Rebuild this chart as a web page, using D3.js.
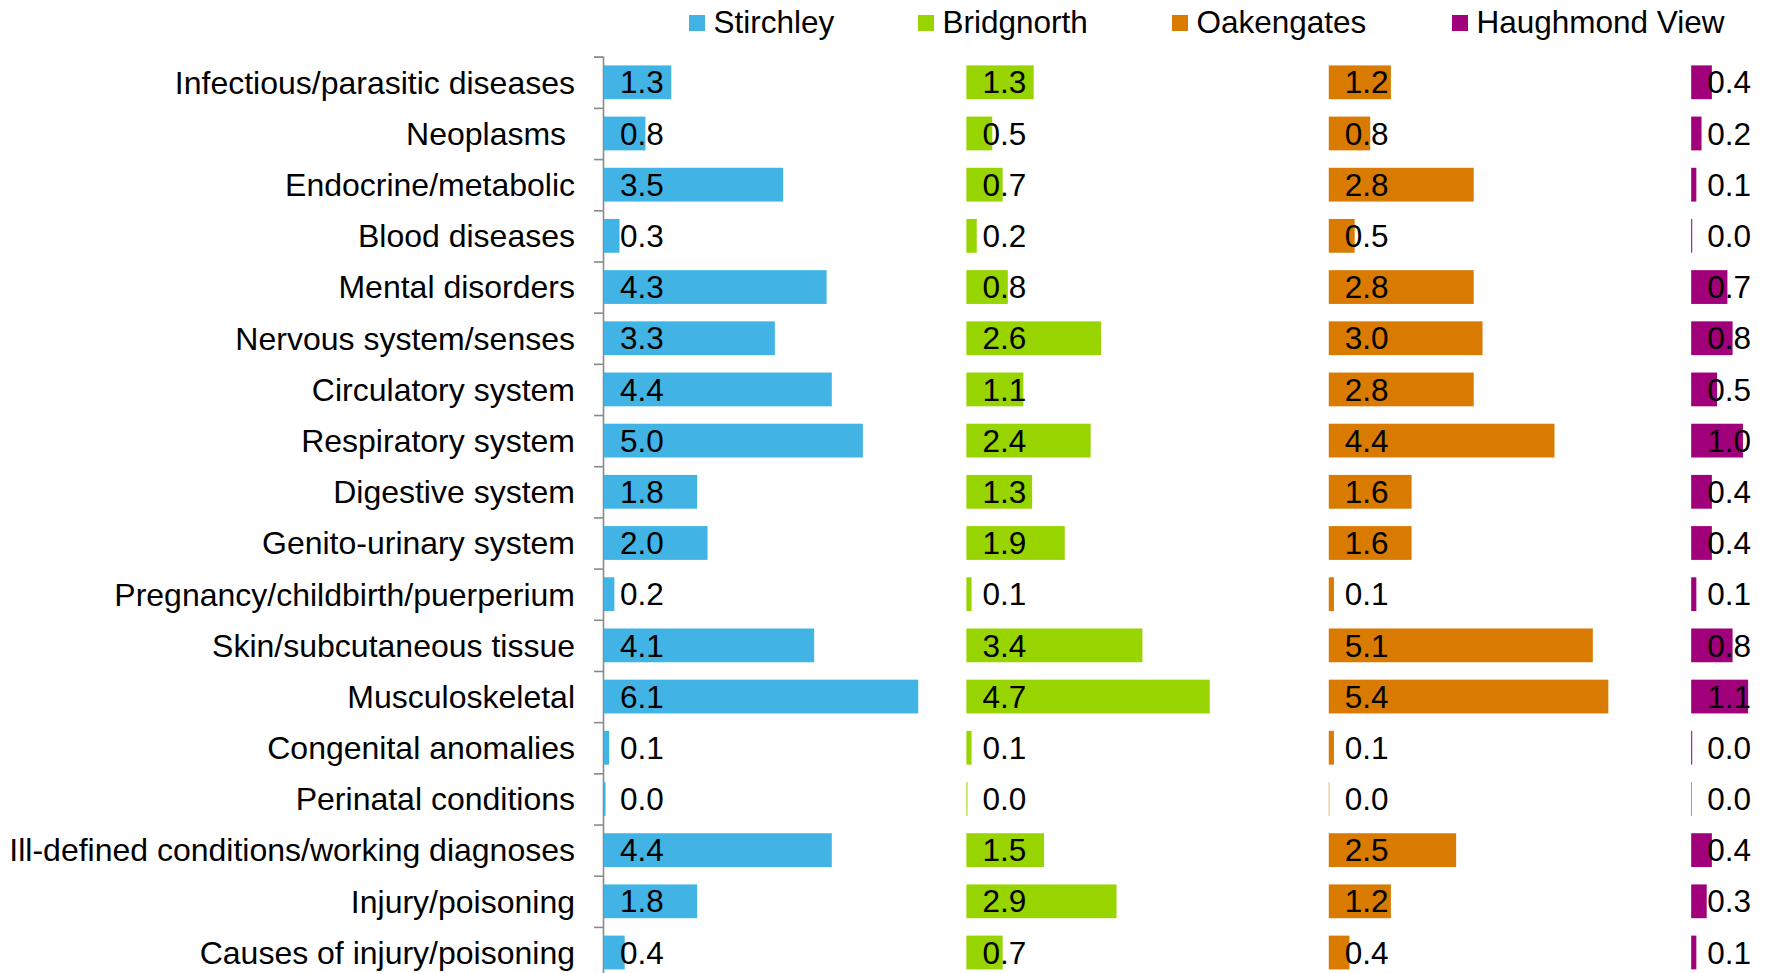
<!DOCTYPE html>
<html>
<head>
<meta charset="utf-8">
<script src="https://cdn.jsdelivr.net/npm/d3@7"></script>
<style>
  body { margin: 0; background: #fff; }
  text { font-family: "Liberation Sans", Arial, sans-serif; fill: #000; }
</style>
</head>
<body>
<div id="chart"></div>
<script>
// categories, top to bottom
const categories = [
  "Infectious/parasitic diseases", "Neoplasms ", "Endocrine/metabolic", "Blood diseases",
  "Mental disorders", "Nervous system/senses", "Circulatory system", "Respiratory system",
  "Digestive system", "Genito-urinary system", "Pregnancy/childbirth/puerperium",
  "Skin/subcutaneous tissue", "Musculoskeletal", "Congenital anomalies",
  "Perinatal conditions", "Ill-defined conditions/working diagnoses",
  "Injury/poisoning", "Causes of injury/poisoning"
];

const seriesNames = ["Stirchley", "Bridgnorth", "Oakengates", "Haughmond View"];
const seriesColors = ["#41b4e5", "#97d400", "#d97b00", "#a0007a"];

const stirchley  = [1.3, 0.8, 3.46, 0.3, 4.3, 3.3, 4.4, 5.0, 1.8, 2.0, 0.2, 4.06, 6.07, 0.1, 0.03, 4.4, 1.8, 0.4];
const bridgnorth = [1.3, 0.5, 0.7, 0.2, 0.8, 2.6, 1.1, 2.4, 1.27, 1.9, 0.1, 3.4, 4.7, 0.1, 0.02, 1.5, 2.9, 0.7];
const oakengates = [1.2, 0.8, 2.8, 0.5, 2.8, 2.97, 2.8, 4.36, 1.6, 1.6, 0.1, 5.1, 5.4, 0.1, 0.01, 2.46, 1.2, 0.4];
const haughmond  = [0.4, 0.2, 0.1, 0.02, 0.7, 0.8, 0.5, 1.0, 0.4, 0.4, 0.1, 0.8, 1.1, 0.02, 0.01, 0.4, 0.3, 0.1];

const allSeries = [stirchley, bridgnorth, oakengates, haughmond];
const panelWidth = 7; // each area gets its own 7-unit slot on the shared axis

const width = 1769, height = 973;
const fontSize = 31.5;
const catFontSize = 32;

const svg = d3.select("#chart").append("svg")
    .attr("width", width)
    .attr("height", height);

// x: one long value axis, panels offset along it
const x = d3.scaleLinear()
    .domain([0, panelWidth * 4])
    .range([604, 604 + panelWidth * 4 * 51.77]);

// y: category bands
const y = d3.scaleBand()
    .domain(categories)
    .range([56.7, 978.1])
    .paddingInner(0.34)
    .paddingOuter(0.17);

// tick boundaries between categories
const yEdge = d3.scaleLinear()
    .domain([0, categories.length])
    .range(y.range());

const axis = svg.append("g")
    .attr("transform", "translate(603,0)")
    .call(d3.axisLeft(yEdge)
        .tickValues(d3.range(0, categories.length + 1))
        .tickSize(9)
        .tickFormat(""));
axis.selectAll("path, line")
    .attr("stroke", "#8a8a8a")
    .attr("stroke-width", 1.6);

// category labels (keep the trailing space on "Neoplasms ")
svg.append("g").selectAll("text")
    .data(categories)
    .enter().append("text")
    .attr("x", 575)
    .attr("y", d => y(d) + y.bandwidth() / 2 + catFontSize * 0.355)
    .attr("text-anchor", "end")
    .style("font-size", catFontSize + "px")
    .style("white-space", "pre")
    .text(d => d);

const fmt = d3.format(".1f");

// bars and labels for each area
allSeries.forEach((values, s) => {
    const offset = s * panelWidth;
    const g = svg.append("g");

    g.selectAll("rect")
        .data(values)
        .enter().append("rect")
        .attr("x", x(offset))
        .attr("y", (d, i) => y(categories[i]))
        .attr("width", d => x(offset + d) - x(offset))
        .attr("height", y.bandwidth())
        .attr("fill", seriesColors[s]);

    g.selectAll("text")
        .data(values)
        .enter().append("text")
        .attr("x", x(offset) + 16)
        .attr("y", (d, i) => y(categories[i]) + y.bandwidth() / 2 + fontSize * 0.355)
        .style("font-size", fontSize + "px")
        .text(d => fmt(d));
});

// legend
const legendX = [689, 918, 1172, 1452];
const legend = svg.append("g").selectAll("g")
    .data(seriesNames)
    .enter().append("g")
    .attr("transform", (d, i) => `translate(${legendX[i]},0)`);

legend.append("rect")
    .attr("x", 0)
    .attr("y", 15)
    .attr("width", 16)
    .attr("height", 16)
    .attr("fill", (d, i) => seriesColors[i]);

legend.append("text")
    .attr("x", 24.5)
    .attr("y", 33.3)
    .style("font-size", fontSize + "px")
    .text(d => d);
</script>
</body>
</html>
